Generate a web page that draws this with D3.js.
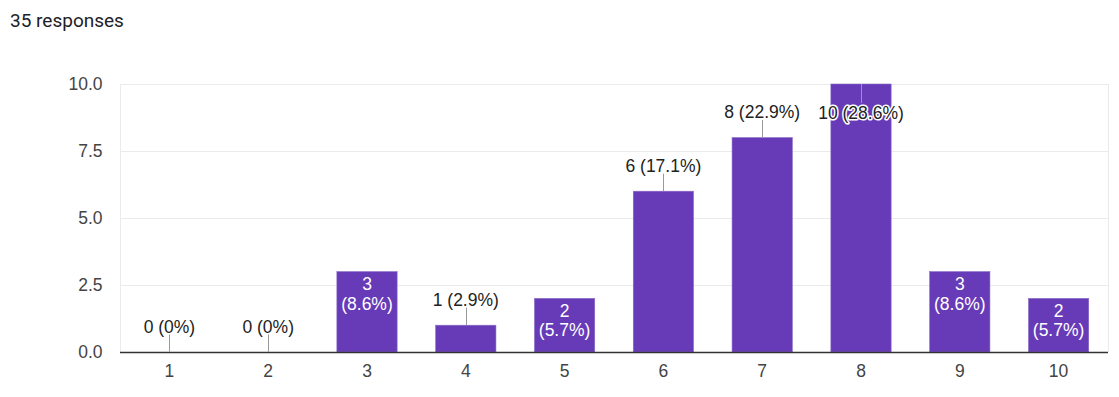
<!DOCTYPE html>
<html><head><meta charset="utf-8">
<script src="https://cdn.jsdelivr.net/npm/d3@7"></script>
<style>
html,body{margin:0;padding:0;background:#fff;}
svg{display:block;}
</style></head>
<body>
<svg id="chart" width="1119" height="397"></svg>
<script>
const title = "35 responses";
const categories = ["1","2","3","4","5","6","7","8","9","10"];
const values = [0,0,3,1,2,6,8,10,3,2];
const percents = ["0%","0%","8.6%","2.9%","5.7%","17.1%","22.9%","28.6%","8.6%","5.7%"];
const labelModes = ["out","out","in","out","in","out","out","top","in","in"];
const yTicks = [0, 2.5, 5, 7.5, 10];

const W = 1119, H = 397;
const m = {left:120, right:11, top:84, bottom:45};
const svg = d3.select("#chart");
const font = "'Liberation Sans', Arial, sans-serif";
const fs = 17.5;

svg.append("text").attr("x",10).attr("y",26.5)
  .attr("font-family","Roboto, Arial, sans-serif").attr("font-size",19).attr("fill","#202124")
  .text(title);

const x = d3.scaleBand().domain(categories).range([m.left, W-m.right]).paddingInner(0.39).paddingOuter(0.195);
const y = d3.scaleLinear().domain([0,10]).range([H-m.bottom, m.top]);

// gridlines
const g = svg.append("g");
g.selectAll("line.grid").data(yTicks).join("line")
  .attr("x1",m.left).attr("x2",W-m.right)
  .attr("y1",d=>Math.round(y(d))+0.5).attr("y2",d=>Math.round(y(d))+0.5)
  .attr("stroke","#ebebeb").attr("stroke-width",1);
// frame sides
[m.left, W-m.right].forEach(xx=>{
  g.append("line").attr("x1",xx+0.5).attr("x2",xx+0.5).attr("y1",y(10)).attr("y2",y(0))
   .attr("stroke","#ebebeb");
});

// y axis
const yAxis = d3.axisLeft(y).tickValues(yTicks).tickFormat(d3.format(".1f")).tickSize(0).tickPadding(17.5);
const ya = svg.append("g").attr("transform",`translate(${m.left},0)`).call(yAxis);
ya.select(".domain").remove();
ya.selectAll("text").attr("font-family",font).attr("font-size",fs).attr("fill","#444");

// bars
svg.append("g").selectAll("rect").data(values).join("rect")
  .attr("x",(d,i)=>x(categories[i])).attr("width",x.bandwidth())
  .attr("y",d=>y(d)).attr("height",d=>y(0)-y(d))
  .attr("fill","#673ab7").attr("stroke","#8a6bc6").attr("stroke-width",0.6);

// baseline
svg.append("line").attr("x1",m.left).attr("x2",W-m.right)
  .attr("y1",y(0)+0.5).attr("y2",y(0)+0.5).attr("stroke","#333").attr("stroke-width",1.5);

// x axis
const xAxis = d3.axisBottom(x).tickSize(0).tickPadding(12.6);
const xa = svg.append("g").attr("transform",`translate(0,${y(0)})`).call(xAxis);
xa.select(".domain").remove();
xa.selectAll("text").attr("font-family",font).attr("font-size",fs).attr("fill","#444");

// labels
const lg = svg.append("g").attr("font-family",font).attr("font-size",fs).attr("text-anchor","middle");
values.forEach((v,i)=>{
  const cx = x(categories[i]) + x.bandwidth()/2;
  const top = y(v);
  const mode = labelModes[i];
  const txt = `${v} (${percents[i]})`;
  if (mode === "in") {
    const t = lg.append("text").attr("fill","#fff");
    t.append("tspan").attr("x",cx).attr("y",top+18.5).text(v);
    t.append("tspan").attr("x",cx).attr("y",top+38).text(`(${percents[i]})`);
  } else if (mode === "out") {
    lg.append("line").attr("x1",Math.round(cx)+0.5).attr("x2",Math.round(cx)+0.5)
      .attr("y1",top).attr("y2",top-17.5).attr("stroke","#999").attr("stroke-width",1);
    lg.append("text").attr("x",cx).attr("y",top-19.3).attr("fill","#222").text(txt);
  } else {
    lg.append("line").attr("x1",Math.round(cx)+0.5).attr("x2",Math.round(cx)+0.5)
      .attr("y1",top).attr("y2",top+19).attr("stroke","#999").attr("stroke-width",1);
    lg.append("text").attr("x",cx).attr("y",top+35.3).attr("fill","#222")
      .attr("stroke","#fff").attr("stroke-width",3).attr("paint-order","stroke").attr("stroke-linejoin","round").text(txt);
  }
});
</script>
</body></html>
